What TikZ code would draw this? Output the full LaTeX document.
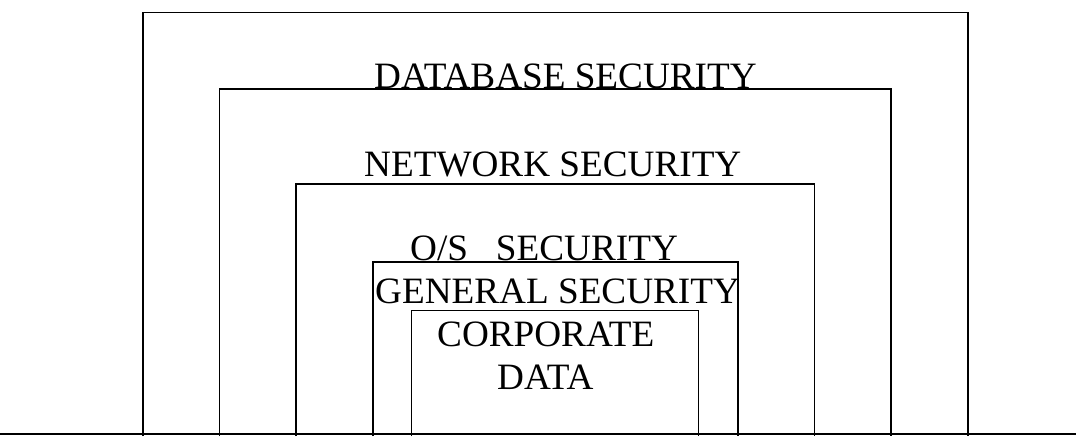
\documentclass[tikz,border=0pt]{standalone}
\usepackage{fontspec}
\setmainfont{Liberation Serif}
\begin{document}
\begin{tikzpicture}[x=1pt,y=-1pt,
  layer/.style={line width=1.7pt,black},
  lbl/.style={anchor=base west,inner sep=0pt,font=\fontsize{37.2}{40}\selectfont}]
\useasboundingbox (0,0) rectangle (1076,437);
% nested security layers, open at the bottom, standing on the ground line
\draw[layer] (143,436) |- (968,12.5) -- (968,436);
\draw[layer] (219.5,436) |- (891,89) -- (891,436);
\draw[layer] (296,436) |- (814.5,184) -- (814.5,436);
\draw[layer] (373,436) |- (738,262) -- (738,436);
\draw[layer] (411.5,436) |- (698.5,310.5) -- (698.5,436);
\draw[layer] (0,434) -- (1076,434);
% labels
\node[lbl] (db)   at (374,88)  {DATABASE SECURITY};
\node[lbl] (net)  at (364,176) {NETWORK SECURITY};
\node[lbl] (os)   at (410,260) {O/S\ \ \ SECURITY};
\node[lbl] (gen)  at (375,303) {GENERAL SECURITY};
\node[lbl] (corp) at (437,346) {CORPORATE};
\node[lbl] (data) at (497,389) {DATA};
\end{tikzpicture}
\end{document}
